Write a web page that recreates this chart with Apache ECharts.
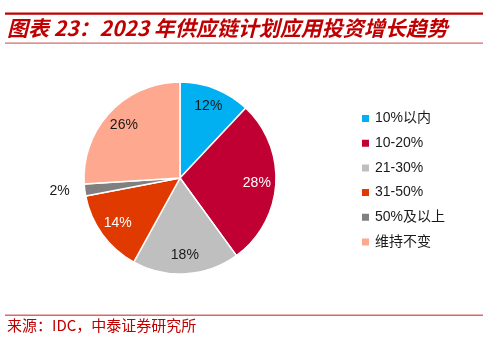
<!DOCTYPE html>
<html><head><meta charset="utf-8">
<script src="https://cdn.jsdelivr.net/npm/echarts@6/dist/echarts.min.js"></script>
<style>html,body{margin:0;padding:0;background:#fff}#c{width:488px;height:338px}</style>
</head><body><div id="c"></div>
<script>
const categories = ['10%以内','10-20%','21-30%','31-50%','50%及以上','维持不变'];
const values = [12, 28, 18, 14, 2, 26];
const colors = ['#00B0F0','#C00033','#BFBFBF','#E03A00','#808080','#FFA890'];
const labelColors = ['#1a1a1a','#ffffff','#1a1a1a','#ffffff','#1a1a1a','#1a1a1a'];

const chart = echarts.init(document.getElementById('c'));
const cx = 180, cy = 178, R = 96;
const pieData = categories.map((n,i)=>({name:n,value:values[i],itemStyle:{color:colors[i]}}));
const labelData = categories.map((n,i)=>{
  const d = {name:n,value:values[i],itemStyle:{color:'rgba(0,0,0,0)'},
    label:{color:labelColors[i]}};
  if (values[i] < 5) {
    d.label = {position:'outside', color:labelColors[i]};
    d.labelLine = {show:false, length:6, length2:4};
  }
  return d;
});
chart.setOption({
  animation:false,
  legend:{
    orient:'vertical', left:355, top:106.5,
    itemWidth:9, itemHeight:9, itemGap:10.7,
    icon:'rect',
    data:categories,
    textStyle:{fontSize:14, color:'#1a1a1a', fontFamily:'"Liberation Sans","Noto Sans CJK SC",sans-serif'}
  },
  series:[
    {type:'pie', radius:[0,R], center:[cx,cy], startAngle:90, clockwise:true,
     silent:true, label:{show:false}, labelLine:{show:false},
     itemStyle:{borderColor:'#fff', borderWidth:1.5},
     data:pieData},
    {type:'pie', radius:[52,R], center:[cx,cy], startAngle:90, clockwise:true,
     silent:true, legendHoverLink:false,
     label:{show:true, position:'inside', formatter:'{c}%', fontSize:14,
            fontFamily:'"Liberation Sans",Arial,sans-serif'},
     labelLine:{show:false},
     data:labelData}
  ],
  graphic:[
    {type:'rect', shape:{x:5,y:12.5,width:478,height:2.2}, style:{fill:'#C00000'}},
    {type:'text', left:7, top:18, style:{text:'图表 23：2023 年供应链计划应用投资增长趋势',
      fill:'#C00000', font:'italic bold 21px "Noto Sans CJK SC", sans-serif'}},
    {type:'rect', shape:{x:5,y:42.5,width:478,height:1.2}, style:{fill:'#D86A6A'}},
    {type:'rect', shape:{x:5,y:314.5,width:478,height:1.5}, style:{fill:'#D86A6A'}},
    {type:'text', left:7, top:318, style:{text:'来源：IDC，中泰证券研究所',
      fill:'#C00000', font:'15px "Noto Sans CJK SC", sans-serif'}}
  ]
});
</script></body></html>
